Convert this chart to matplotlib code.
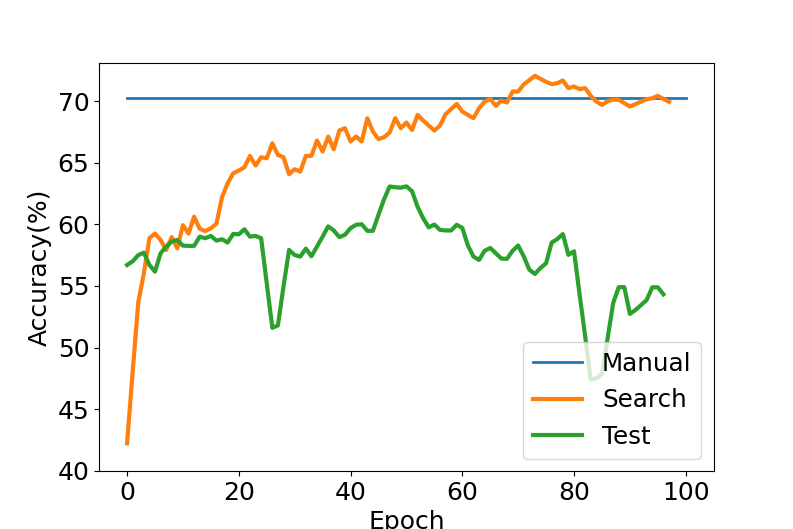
import matplotlib
matplotlib.use("Agg")
import matplotlib.pyplot as plt
import numpy as np

manual_epochs = [0, 100]
manual_acc = [70.25, 70.25]

search_acc = [
    42.23, 48.0, 53.65, 56.0, 58.87, 59.25, 58.73, 57.92, 58.96, 58.05,
    59.93, 59.25, 60.62, 59.64, 59.45, 59.68, 60.05, 62.2, 63.33, 64.14,
    64.36, 64.63, 65.55, 64.77, 65.44, 65.36, 66.58, 65.63, 65.44, 64.06,
    64.47, 64.28, 65.55, 65.55, 66.8, 65.9, 67.12, 66.09, 67.61, 67.8,
    66.72, 67.12, 66.72, 68.61, 67.53, 66.91, 67.07, 67.45, 68.61, 67.8,
    68.26, 67.66, 68.88, 68.42, 68.01, 67.61, 68.01, 68.93, 69.34, 69.77,
    69.15, 68.88, 68.61, 69.42, 69.96, 70.18, 69.61, 70.04, 69.88, 70.77,
    70.77, 71.35, 71.7, 72.05, 71.8, 71.56, 71.37, 71.45, 71.67, 71.05,
    71.18, 70.97, 71.05, 70.42, 69.96, 69.69, 69.99, 70.12, 70.1, 69.83,
    69.56, 69.75, 69.96, 70.15, 70.23, 70.42, 70.18, 69.94,
]

test_acc = [
    56.7, 57.0, 57.5, 57.7, 56.7, 56.16, 57.65, 58.19, 58.6, 58.73,
    58.27, 58.25, 58.25, 59.0, 58.87, 59.06, 58.68, 58.79, 58.52, 59.22,
    59.19, 59.6, 59.0, 59.06, 58.87, 55.22, 51.6, 51.8, 54.95, 57.92,
    57.51, 57.38, 58.03, 57.41, 58.2, 59.0, 59.83, 59.5, 58.96, 59.15,
    59.69, 59.96, 60.01, 59.47, 59.47, 60.77, 62.04, 63.07, 63.01, 62.97,
    63.08, 62.69, 61.43, 60.49, 59.75, 59.98, 59.55, 59.5, 59.5, 59.96,
    59.71, 58.29, 57.38, 57.11, 57.85, 58.08, 57.65, 57.22, 57.2, 57.85,
    58.28, 57.4, 56.32, 55.97, 56.46, 56.84, 58.52, 58.8, 59.21, 57.52,
    57.82, 54.3, 50.9, 47.4, 47.5, 47.88, 50.7, 53.6, 54.9, 54.9,
    52.73, 53.05, 53.45, 53.86, 54.89, 54.89, 54.32,
]

search_epochs = np.arange(len(search_acc))
test_epochs = np.arange(len(test_acc))

plt.rcParams['font.size'] = 18

fig, ax = plt.subplots(figsize=(7.93, 5.29), dpi=100)
ax.plot(manual_epochs, manual_acc, label='Manual', color='#1f77b4', linewidth=2)
ax.plot(search_epochs, search_acc, label='Search', color='#ff7f0e', linewidth=3)
ax.plot(test_epochs, test_acc, label='Test', color='#2ca02c', linewidth=3)

ax.set_ylim(40, 73.05)
ax.set_yticks([40, 45, 50, 55, 60, 65, 70])
ax.set_xticks([0, 20, 40, 60, 80, 100])
ax.set_xlabel('Epoch')
ax.set_ylabel('Accuracy(%)')
ax.legend(loc='lower right', fontsize=17.7)

fig.savefig('out.png', dpi=100)
